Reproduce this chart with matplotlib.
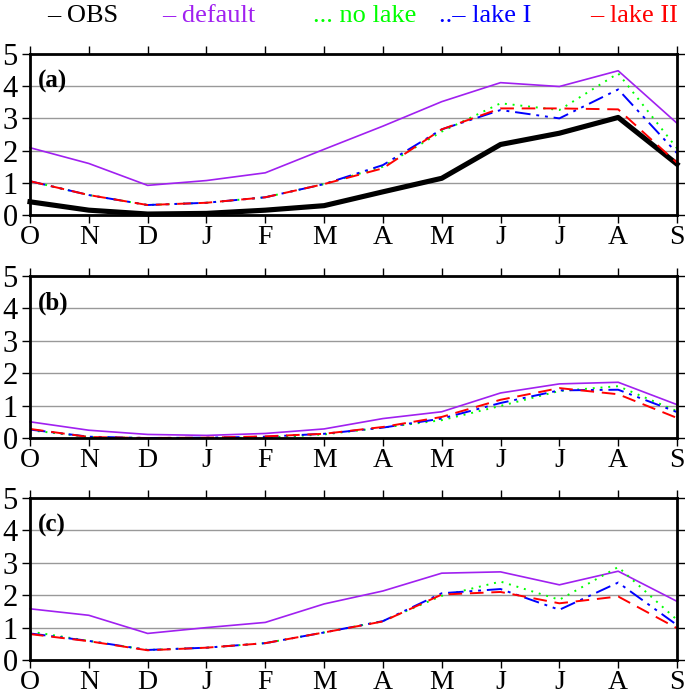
import numpy as np
import matplotlib.pyplot as plt

plt.rcParams['font.family'] = ['Liberation Serif', 'DejaVu Serif']

months = ['O', 'N', 'D', 'J', 'F', 'M', 'A', 'M', 'J', 'J', 'A', 'S']

# panel (a)
obs_a = [0.41, 0.15, 0.03, 0.05, 0.15, 0.29, 0.72, 1.14, 2.19, 2.54, 3.03, 1.58]
default_a = [2.09, 1.60, 0.92, 1.07, 1.31, 2.04, 2.76, 3.52, 4.11, 3.99, 4.48, 2.85]
nolake_a = [1.05, 0.62, 0.31, 0.38, 0.55, 0.96, 1.50, 2.59, 3.47, 3.26, 4.40, 2.07]
lake1_a = [1.05, 0.62, 0.31, 0.38, 0.55, 0.96, 1.55, 2.66, 3.26, 3.00, 3.90, 1.92]
lake2_a = [1.05, 0.62, 0.31, 0.38, 0.55, 0.96, 1.45, 2.66, 3.31, 3.31, 3.28, 1.62]

# panel (b)
default_b = [0.50, 0.24, 0.11, 0.08, 0.14, 0.28, 0.60, 0.81, 1.39, 1.67, 1.72, 1.03]
nolake_b = [0.24, 0.03, 0.00, 0.00, 0.01, 0.11, 0.32, 0.55, 0.99, 1.45, 1.60, 0.83]
lake1_b = [0.26, 0.04, 0.00, 0.01, 0.04, 0.13, 0.32, 0.60, 1.08, 1.47, 1.49, 0.80]
lake2_b = [0.28, 0.03, 0.00, 0.01, 0.05, 0.13, 0.34, 0.65, 1.18, 1.54, 1.35, 0.62]

# panel (c)
default_c = [1.58, 1.38, 0.82, 1.00, 1.16, 1.73, 2.13, 2.68, 2.72, 2.32, 2.74, 1.81]
nolake_c = [0.88, 0.59, 0.31, 0.38, 0.52, 0.85, 1.20, 1.98, 2.42, 1.86, 2.87, 1.24]
lake1_c = [0.82, 0.59, 0.31, 0.38, 0.52, 0.85, 1.20, 2.06, 2.19, 1.55, 2.39, 1.08]
lake2_c = [0.80, 0.58, 0.30, 0.38, 0.52, 0.85, 1.19, 2.02, 2.10, 1.75, 1.96, 0.98]

purple = '#A020F0'
green = '#00FF00'
blue = '#0000FF'
red = '#FF0000'

fig = plt.figure(figsize=(6.85, 6.96), dpi=100)
W, H = 685, 696
left, right = 30, 677
panels = [(54, 215, '(a)', obs_a, default_a, nolake_a, lake1_a, lake2_a),
          (276, 438, '(b)', None, default_b, nolake_b, lake1_b, lake2_b),
          (498, 660, '(c)', None, default_c, nolake_c, lake1_c, lake2_c)]

x = np.arange(len(months))
for top, bot, lab, obs, dflt, nol, l1, l2 in panels:
    ax = fig.add_axes([left / W, 1 - bot / H, (right - left) / W, (bot - top) / H])
    ax.set_xlim(0, 11)
    ax.set_ylim(0, 5)
    ax.yaxis.grid(True, color='#999999', lw=1.0)
    ax.set_axisbelow(True)
    ax.plot(x, dflt, color=purple, lw=1.2, clip_on=False)
    ax.plot(x, nol, color=green, lw=1.4, ls=(0, (1, 3)), clip_on=False)
    ax.plot(x, l1, color=blue, lw=1.4, ls=(0, (8, 3, 1.5, 3, 1.5, 3)), clip_on=False)
    ax.plot(x, l2, color=red, lw=1.4, ls=(0, (7, 4)), clip_on=False)
    if obs is not None:
        ax.plot(x, obs, color='black', lw=3.7, clip_on=False, zorder=1.9)
    ax.set_xticks(x)
    ax.set_xticklabels(months)
    ax.set_yticks(range(6))
    ax.tick_params(direction='out', length=6, width=1,
                   top=True, right=True)
    ax.tick_params(axis='y', labelsize=22, pad=3)
    ax.tick_params(axis='x', labelsize=20, pad=1)
    for s in ax.spines.values():
        s.set_linewidth(2)
    ax.text(0.012, 0.83, lab, transform=ax.transAxes, fontsize=18,
            fontweight='bold', va='center', ha='left')

legend_items = [('\u2013 OBS', 'black', 47),
                ('\u2013 default', purple, 162),
                ('... no lake', green, 313),
                ('..\u2013 lake I', blue, 439),
                ('\u2013 lake II', red, 590)]
for txt, col, px in legend_items:
    fig.text(px / W, 1 - 16 / H, txt, color=col, fontsize=19, ha='left', va='center')

fig.savefig('out.png', dpi=100)
